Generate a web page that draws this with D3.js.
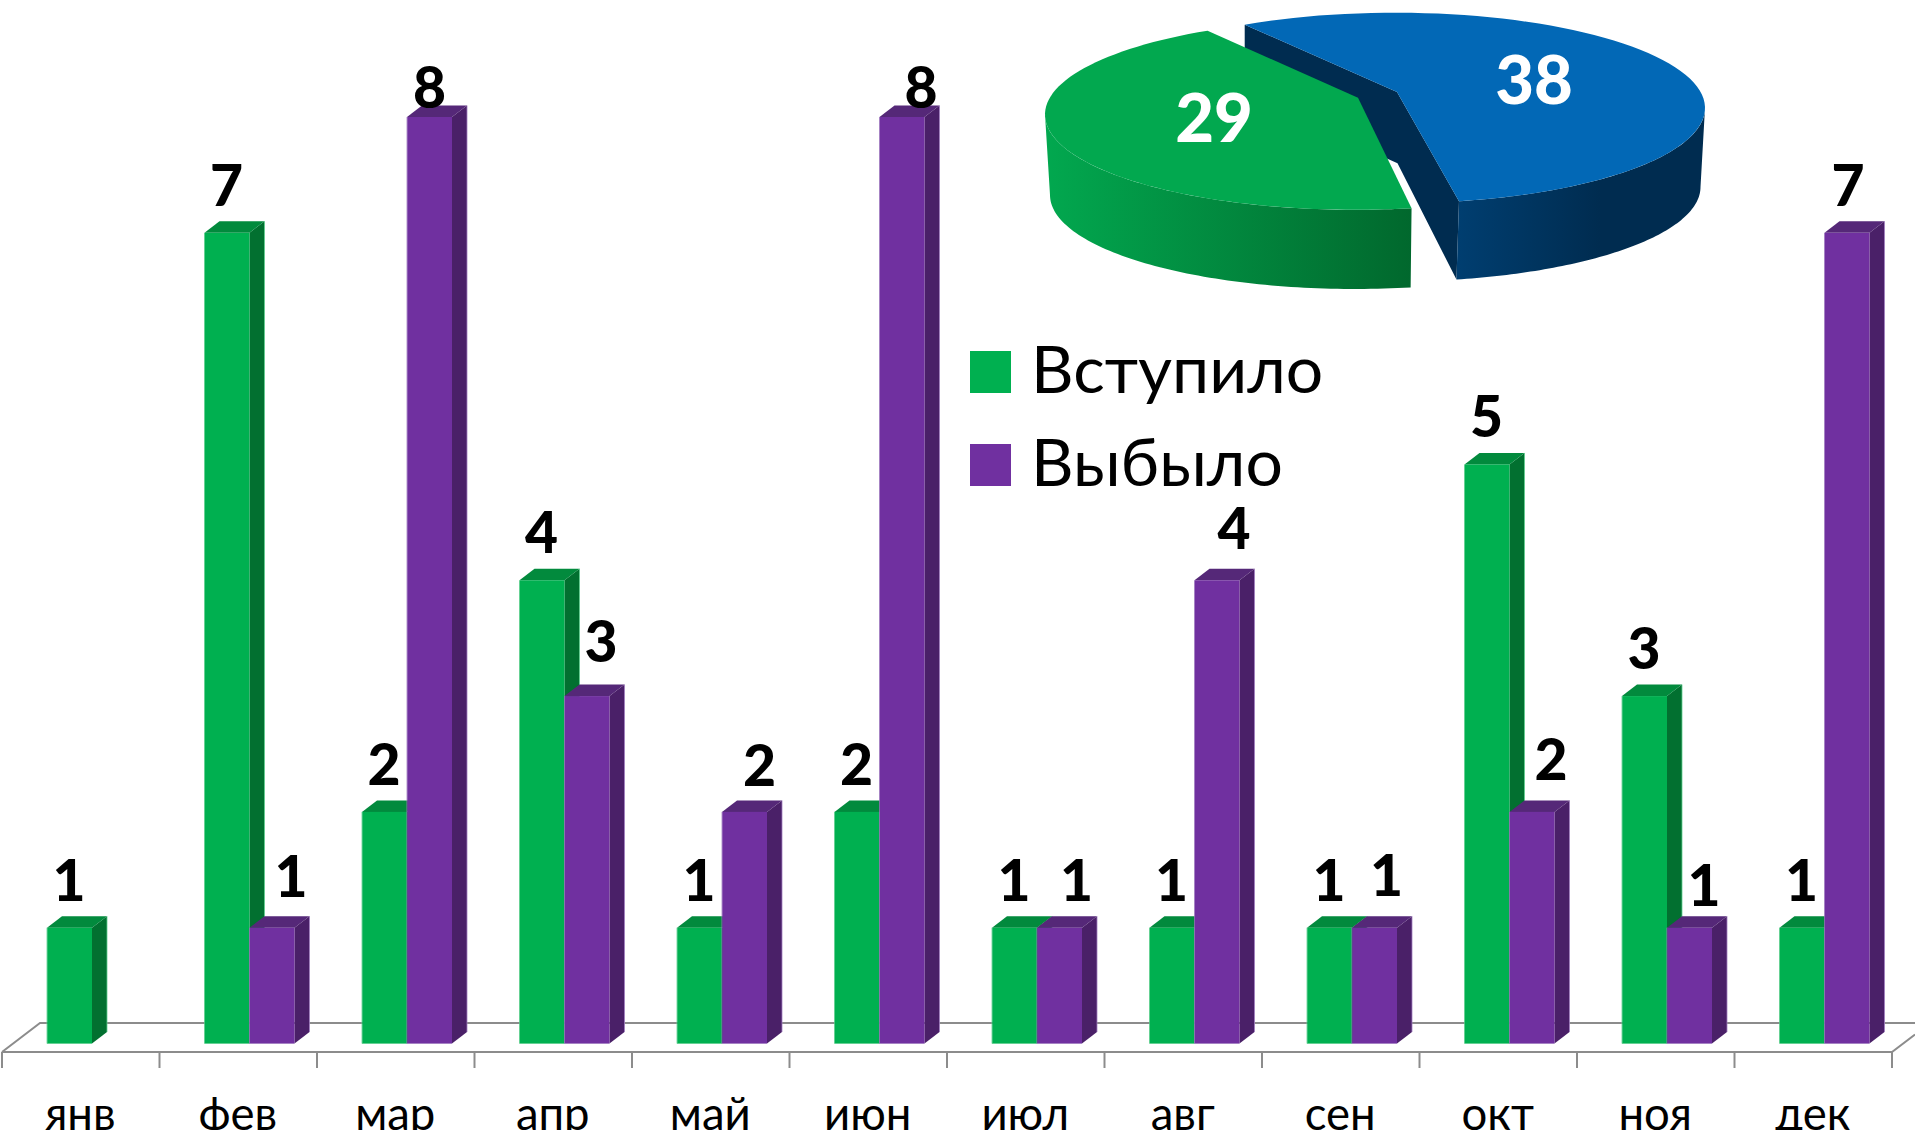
<!DOCTYPE html>
<html lang="ru"><head><meta charset="utf-8">
<style>html,body{margin:0;padding:0;background:#fff}svg{display:block}text{font-family:Lato,"Open Sans","Noto Sans",sans-serif}</style>
<script src="https://cdn.jsdelivr.net/npm/d3@7"></script></head><body>
<svg id="c" width="1915" height="1139"></svg>
<script>
const months = ["янв","фев","мар","апр","май","июн","июл","авг","сен","окт","ноя","дек"];
const seriesNames = ["Вступило","Выбыло"];
const joined = [1,7,2,4,1,2,1,1,1,5,3,1];
const left   = [0,1,8,3,2,8,1,4,1,2,1,7];
const pieLabels = ["Выбыло","Вступило"];
const pieValues = [38,29];

// label placement only (px, relative to the bar top centre)
const leftNudgeX = [0,19,0,14,15,19,17,17,12,19,14.5,1];
const leftNudgeY = [0,-51,-30,-55,-46,-30,-47,-52,-52,-52,-42,-47];

const svg = d3.select("#c");
const defs = svg.append("defs");
defs.append("clipPath").attr("id","page").append("rect").attr("x",0).attr("y",0).attr("width",1915).attr("height",1130);

const x0 = d3.scaleBand().domain(months).range([2,1892]);
const x1 = d3.scaleBand().domain(seriesNames).range([45,135]);
const y = d3.scaleLinear().domain([0,8]).range([1043.5,117]);
const dep = {x:15,y:11.5};
const colours = {
  "Вступило":{front:"#00B050",side:"#027030",top:"#028A3D",edge:"#5fd08f"},
  "Выбыло":{front:"#7030A0",side:"#4A2068",top:"#552878",edge:"#a27fc0"}
};
const axisC = "#8c8c8c";

// floor
const fl = svg.append("g").attr("fill","none").attr("stroke",axisC).attr("stroke-width",2);
fl.append("path").attr("d",`M${x0.range()[0]},1052L40,1023L1915,1023`);
fl.append("path").attr("d",`M${x0.range()[0]},1052L${x0.range()[1]},1052L1915,1034.5`);
fl.selectAll("line").data(months.map(m=>x0(m)).concat(x0.range()[1])).join("line")
  .attr("x1",d=>d).attr("x2",d=>d).attr("y1",1052).attr("y2",1068);

// bars
const bars = seriesNames.flatMap((s,si)=>months.map((m,i)=>({s,m,i,v:(si?left:joined)[i]}))).filter(d=>d.v>0);
const order = months.flatMap(m=>seriesNames.map(s=>bars.find(b=>b.m===m&&b.s===s))).filter(Boolean);
const gb = svg.append("g");
order.forEach(d=>{
  const xa=x0(d.m)+x1(d.s), xb=xa+x1.bandwidth(), yt=y(d.v), yb=y(0), c=colours[d.s];
  const g=gb.append("g");
  g.append("path").attr("fill",c.side).attr("d",`M${xb},${yt}L${xb+dep.x},${yt-dep.y}L${xb+dep.x},${yb-dep.y}L${xb},${yb}Z`);
  g.append("path").attr("fill",c.top).attr("d",`M${xa},${yt}L${xa+dep.x},${yt-dep.y}L${xb+dep.x},${yt-dep.y}L${xb},${yt}Z`);
  g.append("path").attr("fill","none").attr("stroke",c.edge).attr("stroke-width",0.8)
    .attr("d",`M${xa},${yt}L${xa},${yb}L${xb},${yb}M${xb+dep.x},${yt-dep.y}L${xb+dep.x},${yb-dep.y}`);
  g.append("rect").attr("x",xa+0.3).attr("y",yt).attr("width",xb-xa-0.3).attr("height",yb-yt-0.3).attr("fill",c.front);
});

// value labels
const gl = svg.append("g").attr("font-size",57).attr("font-weight",900).attr("text-anchor","middle").attr("fill","#000");
bars.forEach(d=>{
  const cx=x0(d.m)+x1(d.s)+x1.bandwidth()/2;
  const jn=d.s==="Вступило";
  gl.append("text").attr("x",cx+(jn?-0.5:leftNudgeX[d.i])).attr("y",y(d.v)+(jn?-47.5:leftNudgeY[d.i])).attr("dy","0.36em").text(d.v);
});

// category labels
svg.append("g").attr("clip-path","url(#page)").attr("font-size",45.5).attr("text-anchor","middle").attr("fill","#000")
  .selectAll("text").data(months).join("text")
  .attr("x",d=>x0(d)+x0.bandwidth()/2-0.5).attr("y",1130).text(d=>d);

// legend
const lg=svg.append("g").selectAll("g").data(seriesNames).join("g").attr("transform",(d,i)=>`translate(970,${351+i*93})`);
lg.append("rect").attr("width",41).attr("height",42).attr("fill",d=>colours[d].front);
lg.append("text").attr("x",61).attr("y",42).attr("font-size",66).attr("fill","#000").text(d=>d);

// 3D pie
const rad=Math.PI/180;
const tilt=d3.scaleLinear().domain([0,204*rad,360*rad]).range([-29*rad,168.6*rad,331.6*rad]);
const arcs=d3.pie().sort(null).startAngle(0).endAngle(2*Math.PI)(pieValues);
const geo={
  "Выбыло":{top:{cx:1395,cy:108,rx:310,ry:95.3},bot:{cx:1393,cy:187,rx:307.5,ry:94.6},apex:[1397,92],sideFrom:90*rad,side:"gB",face:"#0268B6",label:[1534,80],trimS:0,trimE:-0.7*rad},
  "Вступило":{top:{cx:1355,cy:114.5,rx:310,ry:95.3},bot:{cx:1355,cy:195,rx:305,ry:94},apex:[1358,97.7],sideTo:270*rad,side:"gG",face:"#02A84F",label:[1214,118],trimS:0.7*rad,trimE:0}
};
const pt=(e,t)=>[e.cx+e.rx*Math.sin(t),e.cy-e.ry*Math.cos(t)];
const line=d3.line();
const samples=(a,b,n=80)=>d3.range(n+1).map(i=>a+(b-a)*i/n);
const grad=(id,x1g,x2g,stops)=>{const g=defs.append("linearGradient").attr("id",id).attr("gradientUnits","userSpaceOnUse").attr("x1",x1g).attr("x2",x2g).attr("y1",0).attr("y2",0);
  stops.forEach(s=>g.append("stop").attr("offset",s[0]).attr("stop-color",s[1]));};
grad("gG",1045,1412,[[0,"#02A84F"],[1,"#01682D"]]);
grad("gB",1459,1600,[[0,"#003E70"],[1,"#002C50"]]);
const gp=svg.append("g");
const blue=geo["Выбыло"], a0=tilt(arcs[0].startAngle), a1=tilt(arcs[0].endAngle)+blue.trimE;
// blue inner wall
const apexLow=[1397.5,163.3];
gp.append("path").attr("fill","#002C50").attr("d",line([pt(blue.top,a0),blue.apex,pt(blue.top,a1),pt(blue.bot,a1),apexLow,[pt(blue.top,a0)[0],95]])+"Z");
arcs.forEach((a,i)=>{
  const g=geo[pieLabels[i]], s=tilt(a.startAngle)+g.trimS, e=tilt(a.endAngle)+g.trimE;
  const from=g.sideFrom!==undefined?g.sideFrom:s, to=g.sideTo!==undefined?g.sideTo:e;
  const ts=samples(from,to);
  gp.append("path").attr("fill",`url(#${g.side})`).attr("d",line(ts.map(t=>pt(g.top,t)).concat(ts.slice().reverse().map(t=>pt(g.bot,t))))+"Z");
  gp.append("path").attr("fill",g.face).attr("d",line([g.apex].concat(samples(s,e).map(t=>pt(g.top,t))))+"Z");
});
pieLabels.forEach((n,i)=>{
  gp.append("text").attr("x",geo[n].label[0]).attr("y",geo[n].label[1]).attr("dy","0.36em").attr("text-anchor","middle")
    .attr("font-size",67).attr("font-weight",900).attr("fill","#fff").text(pieValues[i]);
});
</script></body></html>
